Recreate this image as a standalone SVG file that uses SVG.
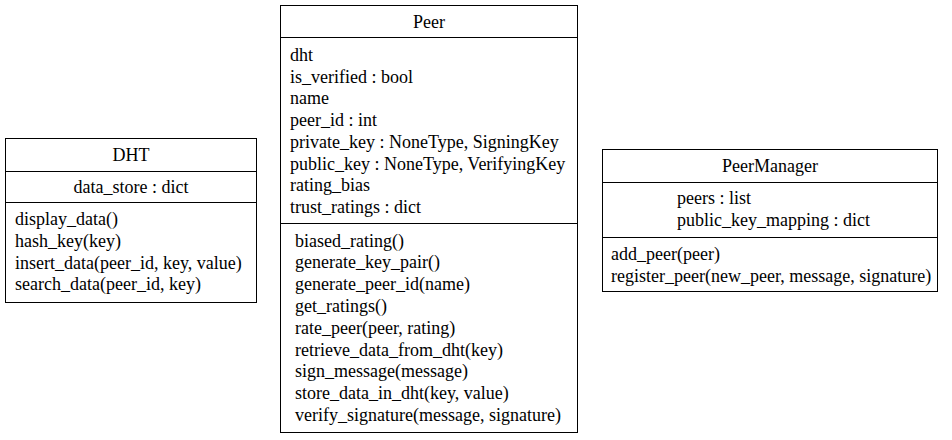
<svg xmlns="http://www.w3.org/2000/svg" width="952" height="440" viewBox="0 0 952 440" font-family="Times New Roman">
<rect width="952" height="440" fill="#fff"/>
<g id="DHT">
<rect fill="#fff" stroke="#000" x="5.5" y="138.5" width="251" height="164"/>
<line stroke="#000" x1="5.5" y1="171.5" x2="256.5" y2="171.5"/>
<line stroke="#000" x1="5.5" y1="202.5" x2="256.5" y2="202.5"/>
<text font-family="Times New Roman" font-size="18" text-anchor="middle" x="131" y="160.5">DHT</text>
<text font-family="Times New Roman" font-size="18" text-anchor="middle" x="131" y="193">data_store : dict</text>
<text font-family="Times New Roman" font-size="18" x="15" y="225">display_data()</text>
<text font-family="Times New Roman" font-size="18" x="15" y="246.8">hash_key(key)</text>
<text font-family="Times New Roman" font-size="18" x="15" y="268.6">insert_data(peer_id, key, value)</text>
<text font-family="Times New Roman" font-size="18" x="15" y="290.4">search_data(peer_id, key)</text>
</g>
<g id="Peer">
<rect fill="#fff" stroke="#000" x="280.5" y="5.5" width="297" height="427"/>
<line stroke="#000" x1="280.5" y1="37.5" x2="577.5" y2="37.5"/>
<line stroke="#000" x1="280.5" y1="223.5" x2="577.5" y2="223.5"/>
<text font-family="Times New Roman" font-size="18" text-anchor="middle" x="429" y="28">Peer</text>
<text font-family="Times New Roman" font-size="18" x="290" y="61">dht</text>
<text font-family="Times New Roman" font-size="18" x="290" y="82.7">is_verified : bool</text>
<text font-family="Times New Roman" font-size="18" x="290" y="104.4">name</text>
<text font-family="Times New Roman" font-size="18" x="290" y="126.1">peer_id : int</text>
<text font-family="Times New Roman" font-size="18" x="290" y="147.8">private_key : NoneType, SigningKey</text>
<text font-family="Times New Roman" font-size="18" x="290" y="169.5">public_key : NoneType, VerifyingKey</text>
<text font-family="Times New Roman" font-size="18" x="290" y="191.2">rating_bias</text>
<text font-family="Times New Roman" font-size="18" x="290" y="212.9">trust_ratings : dict</text>
<text font-family="Times New Roman" font-size="18" x="295" y="246.5">biased_rating()</text>
<text font-family="Times New Roman" font-size="18" x="295" y="268.3">generate_key_pair()</text>
<text font-family="Times New Roman" font-size="18" x="295" y="290.1">generate_peer_id(name)</text>
<text font-family="Times New Roman" font-size="18" x="295" y="311.9">get_ratings()</text>
<text font-family="Times New Roman" font-size="18" x="295" y="333.7">rate_peer(peer, rating)</text>
<text font-family="Times New Roman" font-size="18" x="295" y="355.5">retrieve_data_from_dht(key)</text>
<text font-family="Times New Roman" font-size="18" x="295" y="377.3">sign_message(message)</text>
<text font-family="Times New Roman" font-size="18" x="295" y="399.1">store_data_in_dht(key, value)</text>
<text font-family="Times New Roman" font-size="18" x="295" y="420.9">verify_signature(message, signature)</text>
</g>
<g id="PeerManager">
<rect fill="#fff" stroke="#000" x="602.5" y="149.5" width="335" height="142"/>
<line stroke="#000" x1="602.5" y1="182.5" x2="937.5" y2="182.5"/>
<line stroke="#000" x1="602.5" y1="237.5" x2="937.5" y2="237.5"/>
<text font-family="Times New Roman" font-size="18" text-anchor="middle" x="770" y="171.5">PeerManager</text>
<text font-family="Times New Roman" font-size="18" x="677" y="204">peers : list</text>
<text font-family="Times New Roman" font-size="18" x="677" y="225.7">public_key_mapping : dict</text>
<text font-family="Times New Roman" font-size="18" x="611" y="260">add_peer(peer)</text>
<text font-family="Times New Roman" font-size="18" x="611" y="281.8">register_peer(new_peer, message, signature)</text>
</g>
<g id="connectors"></g>
</svg>
